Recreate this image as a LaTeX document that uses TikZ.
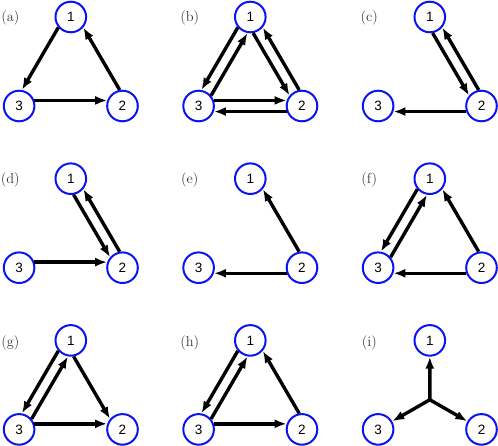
\documentclass[tikz,border=0pt]{standalone}
\usepackage{fontspec}
\usepackage{tikz}
\usetikzlibrary{arrows.meta,calc}
\newfontfamily\vertfont{Liberation Sans}
\definecolor{ringblue}{HTML}{0A14F0}
\definecolor{tagtext}{HTML}{333333}

\begin{document}
\begin{tikzpicture}[x=1pt,y=-1pt,
    vert/.style={circle,draw=ringblue,line width=2pt,minimum size=30.6pt,
      inner sep=0pt,font=\vertfont\fontsize{13.5}{13.5}\selectfont},
    tag/.style={text=tagtext,font=\fontsize{14.4}{16}\selectfont},
    edge/.style={line width=3.4pt,-{Latex[length=12pt,width=9pt]}}]
  \useasboundingbox (0,0) rectangle (498,446);
  % panels
  \foreach \p/\c/\r in {a/0/0,b/1/0,c/2/0,d/0/1,e/1/1,f/2/1,g/0/2,h/1/2,i/2/2}{
    \begin{scope}[shift={({70.8+179.5*\c},{17+161.7*\r})}]
      \node[vert] (\p1) at (0,0) {1};
      \node[vert] (\p2) at (51.7,89) {2};
      \node[vert] (\p3) at (-51.7,89) {3};
      \node[tag] (tag\p) at (-60.5,{0.5+1.2*\r}) {(\p)};
    \end{scope}
  }
  % links: 13, 31, 12, 21, 32, 23 keep their own side
  \foreach \s/\t in {a1.220/a3.80, a3.20/a2.160, a2.100/a1.320,
      b1.220/b3.80, b3.40/b1.260, b1.280/b2.140, b2.100/b1.320,
      b3.20/b2.160, b2.200/b3.340,
      c1.280/c2.140, c2.100/c1.320, c2.200/c3.340,
      d1.280/d2.140, d2.100/d1.320, d3.20/d2.160,
      e2.100/e1.320, e2.200/e3.340,
      f1.220/f3.80, f3.40/f1.260, f2.100/f1.320, f2.200/f3.340,
      g1.220/g3.80, g3.40/g1.260, g1.280/g2.140, g3.20/g2.160,
      h1.220/h3.80, h3.40/h1.260, h2.100/h1.320, h3.20/h2.160}
    \draw[edge] (\s) -- (\t);
  % star
  \coordinate (i0) at ($(i1)!0.6667!(i1|-i2)$);
  \foreach \t in {1,2,3}
    \draw[edge,line cap=round] (i0) -- (i\t);
\end{tikzpicture}
\end{document}
